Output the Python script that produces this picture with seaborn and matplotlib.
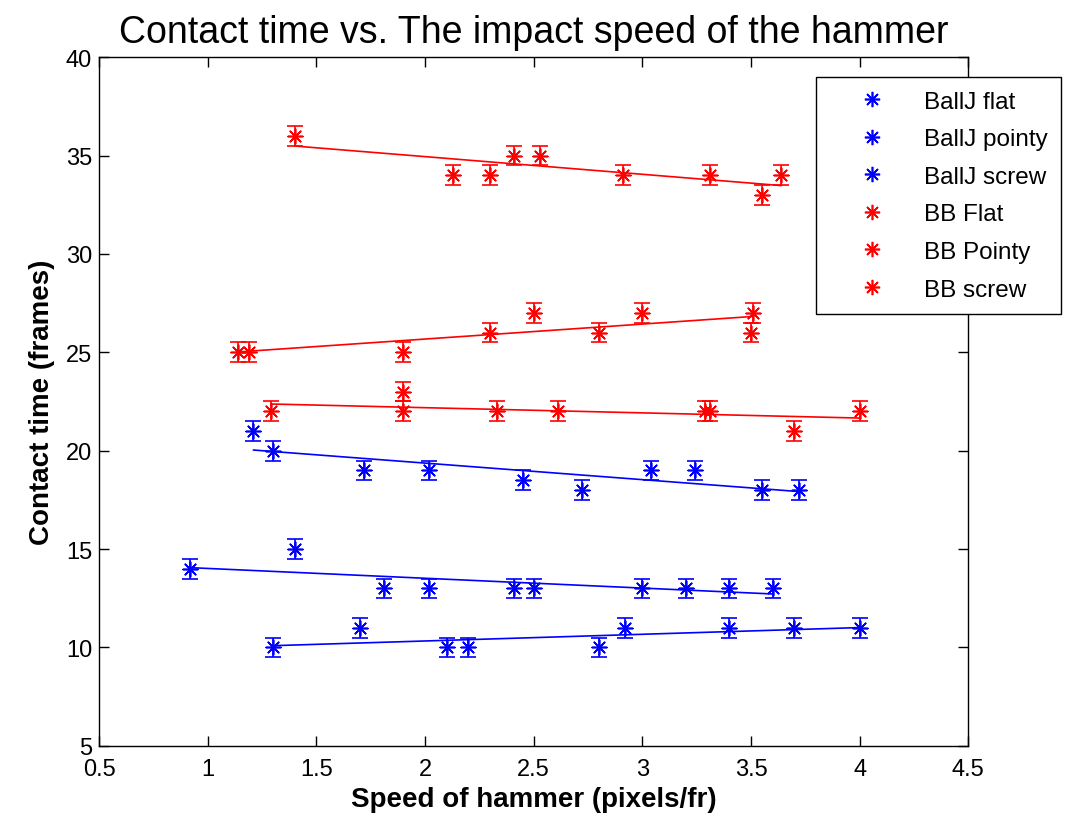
import numpy as np
import pandas as pd
import matplotlib
matplotlib.use("Agg")
import matplotlib.pyplot as plt
from matplotlib.lines import Line2D
import seaborn as sns

# ---- data ----
series_names = ["BallJ flat", "BallJ pointy", "BallJ screw", "BB Flat", "BB Pointy", "BB screw"]
series_colors = ["#0000FF", "#0000FF", "#0000FF", "#FF0000", "#FF0000", "#FF0000"]

balljflat_x = [1.21, 1.30, 1.72, 2.02, 2.45, 2.72, 3.04, 3.24, 3.55, 3.72]
balljflat_y = [21, 20, 19, 19, 18.5, 18, 19, 19, 18, 18]

balljpointy_x = [0.92, 1.40, 1.81, 2.02, 2.41, 2.50, 3.00, 3.20, 3.40, 3.60]
balljpointy_y = [14, 15, 13, 13, 13, 13, 13, 13, 13, 13]

balljscrew_x = [1.30, 1.70, 2.10, 2.20, 2.80, 2.92, 3.40, 3.70, 4.00]
balljscrew_y = [10, 11, 10, 10, 10, 11, 11, 11, 11]

bbflat_x = [1.29, 1.90, 1.90, 2.33, 2.61, 3.29, 3.31, 3.70, 4.00]
bbflat_y = [22, 23, 22, 22, 22, 22, 22, 21, 22]

bbpointy_x = [1.14, 1.19, 1.90, 2.30, 2.50, 2.80, 3.00, 3.51, 3.50]
bbpointy_y = [25, 25, 25, 26, 27, 26, 27, 27, 26]

bbscrew_x = [1.40, 2.13, 2.30, 2.41, 2.53, 2.91, 3.31, 3.55, 3.64]
bbscrew_y = [36, 34, 34, 35, 35, 34, 34, 33, 34]

error_half = 0.5

x_ticks = [0.5, 1, 1.5, 2, 2.5, 3, 3.5, 4, 4.5]
x_tick_labels = ["0.5", "1", "1.5", "2", "2.5", "3", "3.5", "4", "4.5"]
y_ticks = [5, 10, 15, 20, 25, 30, 35, 40]
y_tick_labels = ["5", "10", "15", "20", "25", "30", "35", "40"]

all_x = [balljflat_x, balljpointy_x, balljscrew_x, bbflat_x, bbpointy_x, bbscrew_x]
all_y = [balljflat_y, balljpointy_y, balljscrew_y, bbflat_y, bbpointy_y, bbscrew_y]

frames = []
for name, xs, ys in zip(series_names, all_x, all_y):
    frames.append(pd.DataFrame({"speed": xs, "contact": ys, "series": name}))
df = pd.concat(frames, ignore_index=True)

# ---- style ----
sns.set_style("ticks")
plt.rcParams["font.family"] = ["Liberation Sans", "DejaVu Sans"]
plt.rcParams["text.color"] = "black"
plt.rcParams["axes.labelcolor"] = "black"
plt.rcParams["xtick.color"] = "black"
plt.rcParams["ytick.color"] = "black"

fig = plt.figure(figsize=(10.66, 8.2), dpi=100)
ax = fig.add_axes([0.0929, 0.0894, 0.8155, 0.8395])

asterisk = (8, 2, 0)
for name, col in zip(series_names, series_colors):
    sub = df[df["series"] == name]
    ax.errorbar(sub["speed"], sub["contact"], yerr=error_half, fmt="none",
                ecolor=col, elinewidth=1.2, capsize=6, capthick=1.2, zorder=2)
    sns.scatterplot(data=sub, x="speed", y="contact", color=col, marker=asterisk,
                    s=110, linewidths=1.2, ax=ax, legend=False, zorder=3)
    sns.regplot(data=sub, x="speed", y="contact", scatter=False, ci=None,
                truncate=True, color=col, line_kws={"linewidth": 1.2}, ax=ax)

ax.set_xlim(0.5, 4.5)
ax.set_ylim(5, 40)
ax.set_xticks(x_ticks)
ax.set_xticklabels(x_tick_labels)
ax.set_yticks(y_ticks)
ax.set_yticklabels(y_tick_labels)
ax.tick_params(direction="in", top=True, right=True, length=7, width=1,
               labelsize=17, colors="black")
ax.tick_params(axis="x", pad=9)
ax.tick_params(axis="y", pad=5)
for sp in ax.spines.values():
    sp.set_visible(True)
    sp.set_color("black")
    sp.set_linewidth(1)

ax.set_title("Contact time vs. The impact speed of the hammer", fontsize=27, pad=11,
             color="black")
ax.set_xlabel("Speed of hammer (pixels/fr)", fontsize=20, fontweight="bold", labelpad=4)
ax.set_ylabel("Contact time (frames)", fontsize=20, fontweight="bold", labelpad=8)

handles = [Line2D([], [], linestyle="none", marker=asterisk, color=c,
                  markersize=11, markeredgewidth=1.2) for c in series_colors]
leg = fig.legend(handles, series_names, loc="upper left",
                 bbox_to_anchor=(0.7655, 0.9045), fontsize=17.5, frameon=True,
                 fancybox=False, framealpha=1, edgecolor="black",
                 labelspacing=0.64, handletextpad=0.4, borderpad=0.55,
                 handlelength=3.5, borderaxespad=0)
leg.get_frame().set_linewidth(1)
for t in leg.get_texts():
    t.set_color("black")

fig.savefig("out.png", dpi=100)
